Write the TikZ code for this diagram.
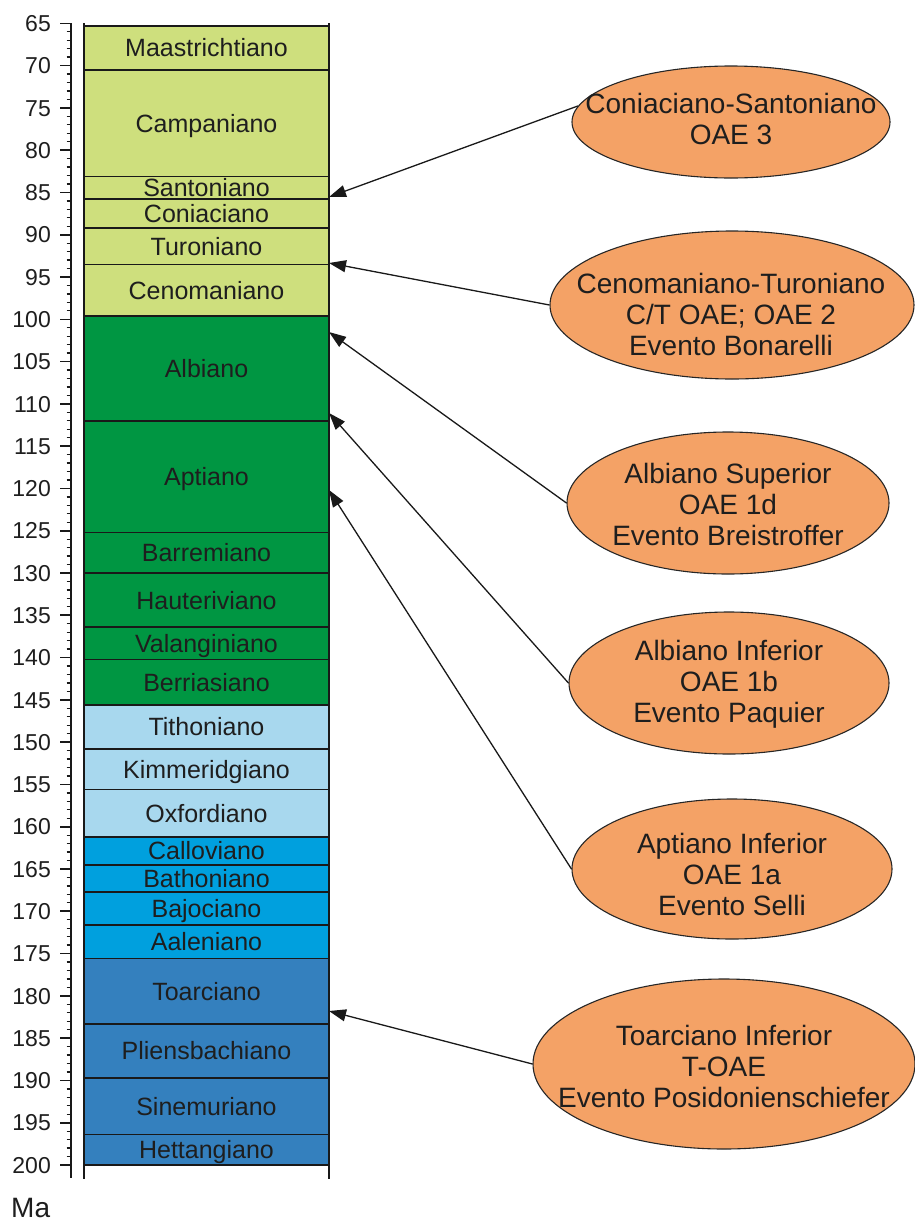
\documentclass[tikz,border=0pt]{standalone}
\usepackage{fontspec}
\setmainfont{Liberation Sans}
\usetikzlibrary{arrows.meta,shapes.geometric}
\definecolor{ucret}{RGB}{206,223,125}
\definecolor{lcret}{RGB}{0,150,66}
\definecolor{ujur}{RGB}{168,216,238}
\definecolor{mjur}{RGB}{0,160,222}
\definecolor{ljur}{RGB}{52,128,190}
\definecolor{oae}{RGB}{244,162,102}
\definecolor{txt}{RGB}{30,30,30}
\newcommand\ymaval[1]{(23.3+(#1-65)*8.457)}
\begin{document}
\begin{tikzpicture}[x=1pt,y=-1pt,
  stagelabel/.style={inner sep=0pt, text height=17.9pt, text depth=0pt, text=txt,
    font=\fontsize{25}{30}\selectfont},
  numlabel/.style={anchor=east, inner sep=0pt, text height=16.5pt, text depth=0pt, text=txt,
    font=\fontsize{23}{27}\selectfont},
  oaebox/.style={ellipse, draw=black!85, line width=1.1pt, fill=oae, inner sep=0pt},
  oaetext/.style={align=center, inner sep=0pt, text=txt, font=\fontsize{28}{31}\selectfont},
  arr/.style={-{Triangle[length=17pt,width=12pt]}, line width=1.3pt, black!90},
  bline/.style={line width=1.5pt, black!90},
]
\useasboundingbox (0,0) rectangle (915,1221);

% stages
\foreach \n/\a/\b/\c in {
  Maastrichtiano/65.3/70.5/ucret,
  Campaniano/70.5/83.1/ucret,
  Santoniano/83.1/85.8/ucret,
  Coniaciano/85.8/89.2/ucret,
  Turoniano/89.2/93.5/ucret,
  Cenomaniano/93.5/99.6/ucret,
  Albiano/99.6/112.0/lcret,
  Aptiano/112.0/125.2/lcret,
  Barremiano/125.2/130.0/lcret,
  Hauteriviano/130.0/136.4/lcret,
  Valanginiano/136.4/140.2/lcret,
  Berriasiano/140.2/145.6/lcret,
  Tithoniano/145.6/150.8/ujur,
  Kimmeridgiano/150.8/155.6/ujur,
  Oxfordiano/155.6/161.2/ujur,
  Calloviano/161.2/164.5/mjur,
  Bathoniano/164.5/167.7/mjur,
  Bajociano/167.7/171.6/mjur,
  Aaleniano/171.6/175.6/mjur,
  Toarciano/175.6/183.3/ljur,
  Pliensbachiano/183.3/189.7/ljur,
  Sinemuriano/189.7/196.4/ljur,
  Hettangiano/196.4/200.0/ljur}{
  \fill[\c] (84,{\ymaval{\a}}) rectangle (329,{\ymaval{\b}});
  \draw[bline] (84,{\ymaval{\a}}) -- (329,{\ymaval{\a}});
  \draw[bline] (84,{\ymaval{\b}}) -- (329,{\ymaval{\b}});
  \node[stagelabel] (\n) at (206.5,{(\ymaval{\a}+\ymaval{\b})/2}) {\n};
}
\draw[line width=1.7pt, black!90] (84,23) -- (84,1179);
\draw[line width=1.7pt, black!90] (329,23) -- (329,1179);

% axis
\draw[line width=1.7pt, black!90] (71,23.3) -- (71,1178);
\foreach \m in {65,70,...,200}{
  \draw[line width=1.6pt, black!90] (60,{\ymaval{\m}}) -- (71,{\ymaval{\m}});
  \node[numlabel] (n\m) at (51,{\ymaval{\m}}) {\m};
}
\foreach \m in {66,...,199}{
  \draw[line width=1.3pt, black!90] (66.5,{\ymaval{\m}}) -- (71,{\ymaval{\m}});
}
\node[anchor=base west, inner sep=0pt, text=txt, font=\fontsize{28}{32}\selectfont] (ma) at (11,1217) {Ma};

% OAE ellipses
\node[oaebox, minimum width=318pt, minimum height=112pt] (e1) at (731,122) {};
\node[oaebox, minimum width=364pt, minimum height=148pt] (e2) at (732,305) {};
\node[oaebox, minimum width=322pt, minimum height=142pt] (e3) at (728,503) {};
\node[oaebox, minimum width=320pt, minimum height=142pt] (e4) at (729,683) {};
\node[oaebox, minimum width=320pt, minimum height=140pt] (e5) at (732,869) {};
\node[oaebox, minimum width=382pt, minimum height=170pt] (e6) at (724,1064) {};

\node[oaetext] (e1t) at (731,119) {Coniaciano-Santoniano\\OAE 3};
\node[oaetext] (e2t) at (731,314) {Cenomaniano-Turoniano\\C/T OAE; OAE 2\\Evento Bonarelli};
\node[oaetext] (e3t) at (728,504) {Albiano Superior\\OAE 1d\\Evento Breistroffer};
\node[oaetext] (e4t) at (729,684) {Albiano Inferior\\OAE 1b\\Evento Paquier};
\node[oaetext] (e5t) at (732,874) {Aptiano Inferior\\OAE 1a\\Evento Selli};
\node[oaetext] (e6t) at (724,1066) {Toarciano Inferior\\T-OAE\\Evento Posidonienschiefer};

% arrow targets on the column
\coordinate (t1) at (329,197);
\coordinate (t2) at (329,263);
\coordinate (t3) at (329,332);
\coordinate (t4) at (329,413);
\coordinate (t5) at (329,490);
\coordinate (t6) at (329,1011);

\draw[arr] (e1.174) -- (t1);
\draw[arr] (e2.west) -- (t2);
\draw[arr] (e3.west) -- (t3);
\draw[arr] (e4.west) -- (t4);
\draw[arr] (e5.west) -- (t5);
\draw[arr] (e6.west) -- (t6);
\end{tikzpicture}
\end{document}
